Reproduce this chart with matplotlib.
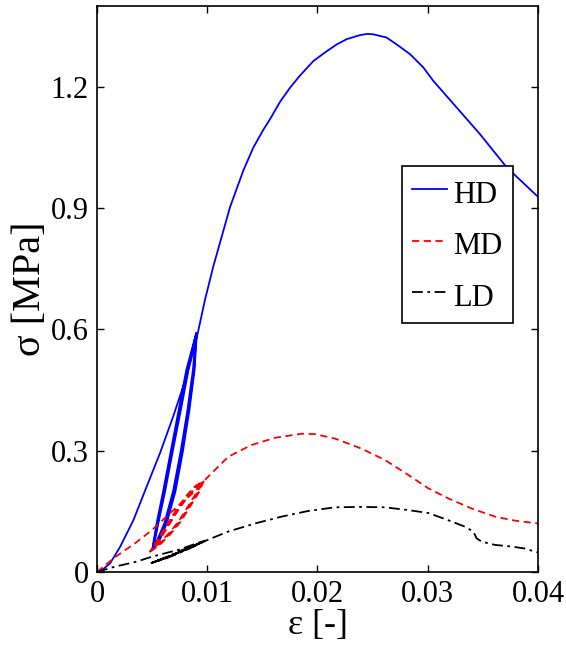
import matplotlib
matplotlib.use("Agg")
import matplotlib.pyplot as plt

plt.rcParams['font.family'] = ['Liberation Serif', 'DejaVu Serif']

# ---------------- data ----------------
hd_eps = [0, 0.0006, 0.0012, 0.0021, 0.0033, 0.0045, 0.0057, 0.0069, 0.0081, 0.0090,
          0.0087, 0.0082, 0.0076, 0.0069, 0.0061, 0.0054, 0.0050,
          0.0054, 0.0060, 0.0067, 0.0074, 0.0081, 0.0090,
          0.0088, 0.0083, 0.0077, 0.0070, 0.0062, 0.0055, 0.00505,
          0.0055, 0.0061, 0.0068, 0.0075, 0.0082, 0.00905,
          0.00885, 0.00838, 0.0078, 0.00712, 0.00632, 0.00562, 0.00512,
          0.00556, 0.00618, 0.00688, 0.0076, 0.0083, 0.0091,
          0.0098, 0.01055, 0.01146, 0.01206, 0.01327, 0.01418, 0.01509, 0.01569,
          0.0166, 0.01751, 0.01841, 0.01963, 0.02083, 0.02174, 0.02265, 0.02385,
          0.0245, 0.02506, 0.02627, 0.02718, 0.02839, 0.0296, 0.0305, 0.03262,
          0.03474, 0.03716, 0.0400]
hd_sig = [0, 0.008, 0.022, 0.0625, 0.128, 0.211, 0.293, 0.384, 0.482, 0.591,
          0.50, 0.40, 0.30, 0.20, 0.12, 0.075, 0.054,
          0.12, 0.20, 0.30, 0.40, 0.50, 0.591,
          0.50, 0.40, 0.30, 0.20, 0.12, 0.075, 0.058,
          0.12, 0.20, 0.30, 0.40, 0.50, 0.588,
          0.50, 0.40, 0.30, 0.20, 0.12, 0.075, 0.060,
          0.12, 0.20, 0.30, 0.40, 0.50, 0.586,
          0.674, 0.756, 0.844, 0.902, 0.993, 1.050, 1.094, 1.120,
          1.163, 1.198, 1.228, 1.264, 1.288, 1.305, 1.318, 1.328,
          1.331, 1.330, 1.322, 1.305, 1.281, 1.248, 1.215, 1.149,
          1.083, 1.001, 0.928]

md_eps = [0, 0.0016, 0.0035, 0.0050, 0.0068, 0.0089, 0.0096,
          0.0090, 0.0082, 0.0074, 0.0065, 0.0056, 0.0048,
          0.0055, 0.0063, 0.0071, 0.0080, 0.0088, 0.0096,
          0.0091, 0.0083, 0.0075, 0.0066, 0.0057, 0.0049,
          0.0056, 0.0064, 0.0072, 0.0081, 0.0089, 0.0097,
          0.0092, 0.0084, 0.0076, 0.0067, 0.0058, 0.0050,
          0.0057, 0.0065, 0.0073, 0.0082, 0.0090, 0.0098,
          0.0119, 0.0140, 0.01615, 0.01857, 0.01977, 0.02159, 0.0240, 0.02612,
          0.02824, 0.03005, 0.03187, 0.03398, 0.0361, 0.03791, 0.0400]
md_sig = [0, 0.036, 0.072, 0.104, 0.150, 0.200, 0.222,
          0.195, 0.160, 0.125, 0.095, 0.070, 0.050,
          0.080, 0.115, 0.150, 0.185, 0.210, 0.225,
          0.195, 0.160, 0.125, 0.095, 0.070, 0.052,
          0.080, 0.115, 0.150, 0.185, 0.210, 0.226,
          0.195, 0.160, 0.125, 0.095, 0.070, 0.054,
          0.080, 0.115, 0.150, 0.185, 0.210, 0.228,
          0.285, 0.314, 0.332, 0.342, 0.341, 0.330, 0.305, 0.277,
          0.240, 0.207, 0.182, 0.157, 0.137, 0.127, 0.120]

ld_eps = [0, 0.0016, 0.0035, 0.0050, 0.0074, 0.0098,
          0.0085, 0.0072, 0.0060, 0.0048,
          0.0060, 0.0072, 0.0085, 0.0098,
          0.0086, 0.0073, 0.0061, 0.0049,
          0.0061, 0.0073, 0.0086, 0.0099,
          0.0087, 0.0074, 0.0062, 0.0050,
          0.0062, 0.0074, 0.0087, 0.0100,
          0.0119, 0.01433, 0.01675, 0.01917, 0.02159, 0.0240, 0.02612,
          0.02824, 0.03005, 0.03187, 0.03338, 0.03413, 0.03444, 0.0349,
          0.0361, 0.0376, 0.0388, 0.0400]
ld_sig = [0, 0.013, 0.025, 0.038, 0.055, 0.078,
          0.062, 0.046, 0.033, 0.021,
          0.034, 0.048, 0.063, 0.077,
          0.062, 0.046, 0.033, 0.022,
          0.034, 0.048, 0.063, 0.078,
          0.062, 0.046, 0.033, 0.023,
          0.034, 0.048, 0.063, 0.079,
          0.100, 0.120, 0.137, 0.151, 0.160, 0.161, 0.160,
          0.153, 0.146, 0.128, 0.112, 0.100, 0.083, 0.075,
          0.067, 0.063, 0.058, 0.048]

series_labels = ['HD', 'MD', 'LD']
x_ticks = [0, 0.01, 0.02, 0.03, 0.04]
x_ticklabels = ['0', '0.01', '0.02', '0.03', '0.04']
y_ticks = [0, 0.3, 0.6, 0.9, 1.2]
y_ticklabels = ['0', '0.3', '0.6', '0.9', '1.2']

# ---------------- figure ----------------
fig = plt.figure(figsize=(5.66, 6.54), dpi=100)
ax = fig.add_axes([0.1714, 0.1254, 0.7791, 0.8654])

ax.plot(hd_eps, hd_sig, color='#0000ff', lw=1.3, linestyle='-', label=series_labels[0])
ax.plot(md_eps, md_sig, color='#ff0000', lw=1.3, linestyle=(0, (4, 2.5)), label=series_labels[1])
ax.plot(ld_eps, ld_sig, color='black', lw=1.3, linestyle=(0, (6, 2.5, 1.5, 2.5)), label=series_labels[2])

ax.set_xlim(0, 0.04)
ax.set_ylim(0, 1.4)
ax.set_xticks(x_ticks)
ax.set_xticklabels(x_ticklabels)
ax.set_yticks(y_ticks)
ax.set_yticklabels(y_ticklabels)
ax.tick_params(direction='in', length=5, width=1, top=True, right=True,
               labelsize=22, pad=6)
for s in ax.spines.values():
    s.set_linewidth(1.2)

ax.set_xlabel('ε [-]', fontsize=26, labelpad=0)
ax.set_ylabel('σ [MPa]', fontsize=29, labelpad=1)

leg = ax.legend(loc='upper left', bbox_to_anchor=(0.692, 0.717), fontsize=22,
                frameon=True, fancybox=False, framealpha=1, edgecolor='black',
                handlelength=1.15, handleheight=1.25, handletextpad=0.2,
                labelspacing=0.59, borderpad=0.33, borderaxespad=0)
leg.get_frame().set_linewidth(1.2)

fig.savefig('out.png', dpi=100)
